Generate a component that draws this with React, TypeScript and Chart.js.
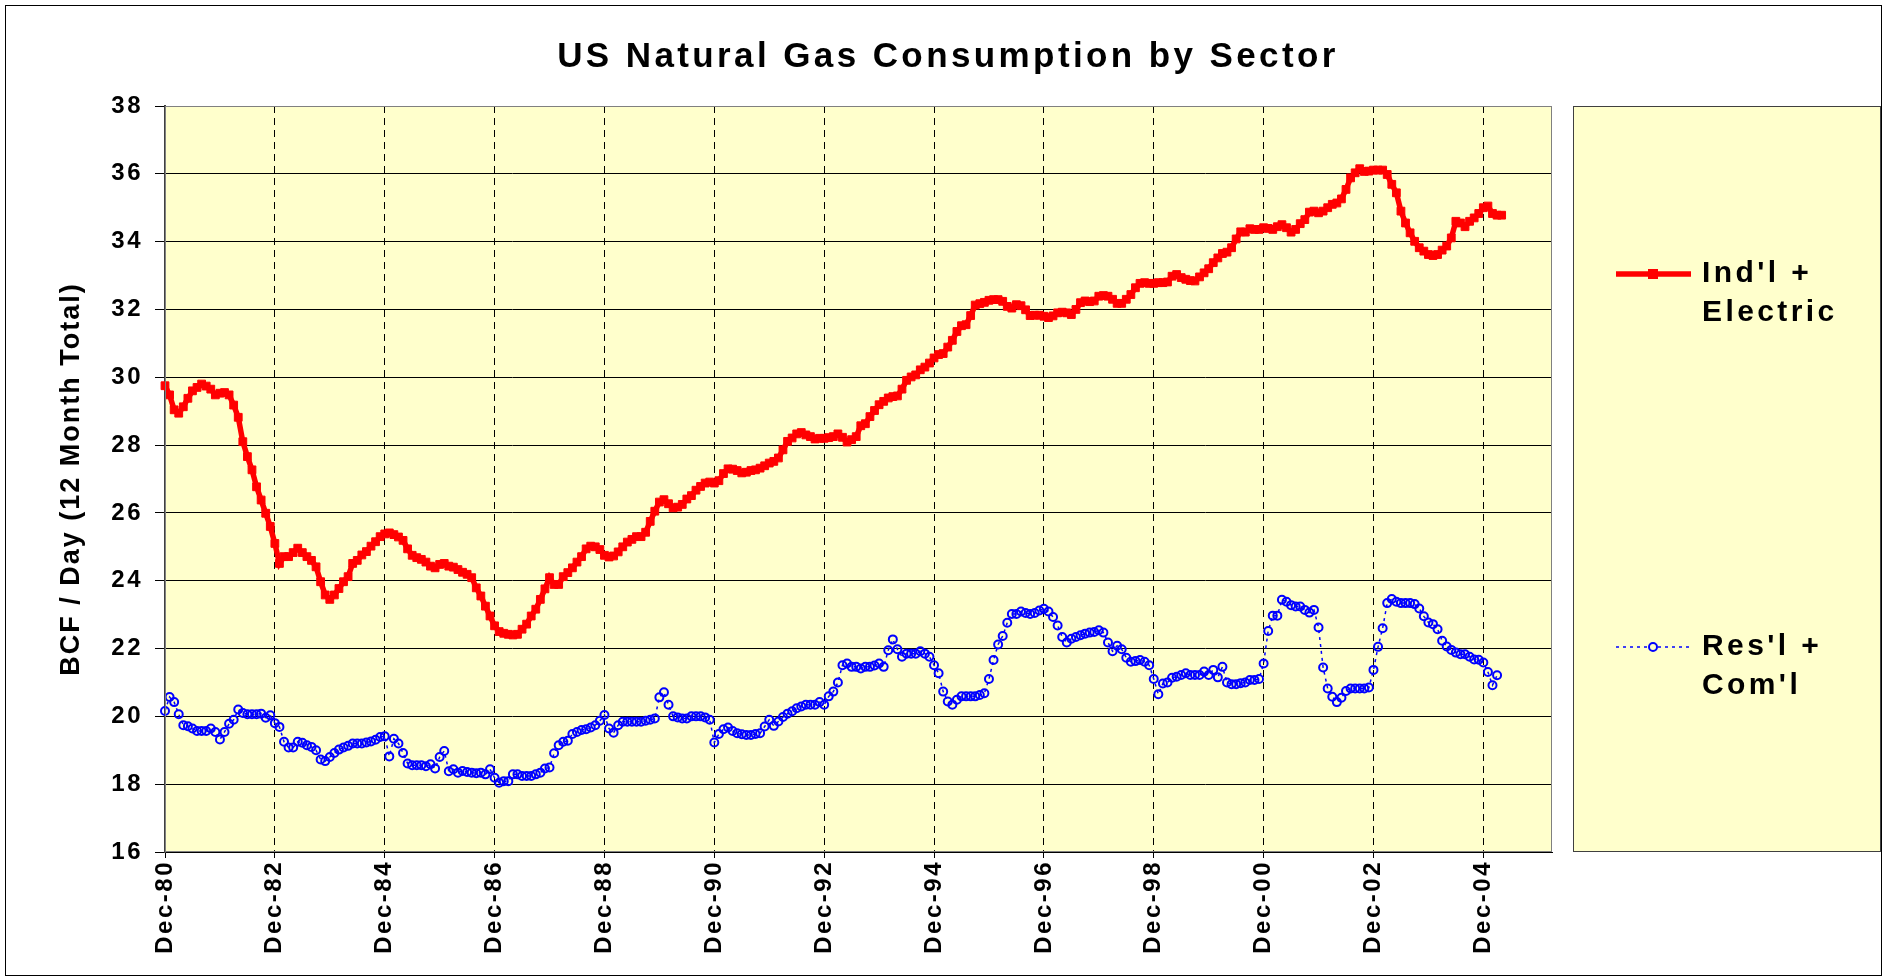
import React, { useEffect, useRef } from 'react';
import { Chart, registerables } from 'chart.js';

Chart.register(...registerables);

const FONT = "'Liberation Sans', Arial, sans-serif";
const TITLE = 'US Natural Gas Consumption by Sector';
const Y_TITLE = 'BCF / Day (12 Month Total)';
const PLOT_BG = '#FFFFCC';

const MONTH_NAMES = ['Jan', 'Feb', 'Mar', 'Apr', 'May', 'Jun', 'Jul', 'Aug', 'Sep', 'Oct', 'Nov', 'Dec'];
// Monthly categories Dec-80 .. Mar-06 (the axis runs a little past the data)
const categories: string[] = [];
for (let i = 0; i < 304; i++) {
  const m = (11 + i) % 12;
  const y = 1980 + Math.floor((11 + i) / 12);
  categories.push(`${MONTH_NAMES[m]}-${String(y % 100).padStart(2, '0')}`);
}

const tickLabels = ['Dec-80', 'Dec-82', 'Dec-84', 'Dec-86', 'Dec-88', 'Dec-90', 'Dec-92', 'Dec-94', 'Dec-96', 'Dec-98', 'Dec-00', 'Dec-02', 'Dec-04'];
const yMin = 16;
const yMax = 38;
const yStep = 2;

const legendLabels = [["Ind'l +", 'Electric'], ["Res'l +", "Com'l"]];

// Ind'l + Electric, monthly from Dec-80
const indValues = [
  29.75, 29.48, 29.04, 28.94, 29.13, 29.38, 29.6, 29.7, 29.8, 29.74, 29.65, 29.48,
  29.53, 29.55, 29.48, 29.18, 28.82, 28.1, 27.66, 27.27, 26.77, 26.38, 25.99, 25.6,
  25.1, 24.51, 24.71, 24.71, 24.83, 24.96, 24.83, 24.71, 24.6, 24.41, 23.97, 23.58,
  23.45, 23.58, 23.77, 23.97, 24.12, 24.51, 24.6, 24.76, 24.86, 25.02, 25.15, 25.3,
  25.38, 25.41, 25.36, 25.29, 25.19, 24.94, 24.75, 24.68, 24.63, 24.55, 24.43, 24.38,
  24.48, 24.51, 24.43, 24.4, 24.33, 24.25, 24.19, 24.09, 23.79, 23.55, 23.25, 22.96,
  22.67, 22.5, 22.45, 22.42, 22.4, 22.42, 22.57, 22.72, 22.96, 23.16, 23.45, 23.76,
  24.09, 23.89, 23.89, 24.12, 24.24, 24.38, 24.55, 24.71, 24.94, 25.02, 25.0, 24.92,
  24.75, 24.7, 24.73, 24.85, 25.0, 25.14, 25.22, 25.3, 25.3, 25.43, 25.75, 26.05,
  26.32, 26.39, 26.27, 26.15, 26.17, 26.25, 26.41, 26.51, 26.67, 26.78, 26.88, 26.91,
  26.88, 26.95, 27.16, 27.3, 27.29, 27.25, 27.18, 27.2, 27.25, 27.27, 27.32, 27.39,
  27.47, 27.52, 27.62, 27.86, 28.11, 28.21, 28.33, 28.37, 28.3, 28.25, 28.18, 28.2,
  28.2, 28.22, 28.25, 28.33, 28.23, 28.09, 28.16, 28.25, 28.57, 28.63, 28.84, 29.02,
  29.19, 29.29, 29.39, 29.43, 29.45, 29.65, 29.91, 30.01, 30.07, 30.22, 30.3, 30.42,
  30.57, 30.67, 30.7, 30.89, 31.09, 31.35, 31.52, 31.55, 31.82, 32.13, 32.17, 32.21,
  32.27, 32.29, 32.29, 32.24, 32.09, 32.04, 32.14, 32.11, 31.99, 31.82, 31.83, 31.83,
  31.8, 31.76, 31.81, 31.9, 31.92, 31.9, 31.85, 32.0, 32.2, 32.25, 32.23, 32.25,
  32.39, 32.41, 32.39, 32.3, 32.18, 32.18, 32.3, 32.44, 32.64, 32.77, 32.79, 32.77,
  32.77, 32.79, 32.79, 32.81, 32.98, 33.03, 32.94, 32.89, 32.85, 32.84, 32.96, 33.08,
  33.2, 33.38, 33.52, 33.65, 33.69, 33.82, 34.08, 34.29, 34.28, 34.38, 34.36, 34.36,
  34.41, 34.39, 34.36, 34.44, 34.5, 34.41, 34.28, 34.36, 34.53, 34.65, 34.87, 34.9,
  34.85, 34.9, 35.0, 35.1, 35.14, 35.26, 35.54, 35.88, 36.03, 36.15, 36.07, 36.08,
  36.11, 36.11, 36.11, 35.98, 35.69, 35.44, 34.9, 34.55, 34.26, 34.01, 33.82, 33.72,
  33.62, 33.59, 33.62, 33.75, 33.87, 34.11, 34.6, 34.55, 34.44, 34.6, 34.7, 34.83,
  35.0, 35.05, 34.83, 34.78, 34.78,
];

// Res'l + Com'l, monthly from Dec-80
const resValues = [
  20.16, 20.57, 20.42, 20.06, 19.74, 19.71, 19.64, 19.57, 19.57, 19.57, 19.64, 19.54,
  19.32, 19.54, 19.78, 19.9, 20.2, 20.1, 20.06, 20.06, 20.06, 20.08, 19.96, 20.03,
  19.8, 19.69, 19.25, 19.08, 19.08, 19.25, 19.22, 19.15, 19.1, 19.0, 18.73, 18.68,
  18.8, 18.92, 19.02, 19.08, 19.13, 19.2, 19.2, 19.2, 19.23, 19.26, 19.31, 19.39,
  19.41, 18.82, 19.34, 19.2, 18.92, 18.61, 18.56, 18.56, 18.56, 18.53, 18.59, 18.46,
  18.8, 18.98, 18.38, 18.44, 18.34, 18.39, 18.36, 18.34, 18.32, 18.34, 18.29, 18.44,
  18.19, 18.04, 18.09, 18.09, 18.29, 18.29, 18.24, 18.24, 18.24, 18.29, 18.34, 18.46,
  18.49, 18.91, 19.15, 19.25, 19.28, 19.48, 19.54, 19.6, 19.62, 19.67, 19.74, 19.87,
  20.04, 19.64, 19.52, 19.74, 19.84, 19.84, 19.84, 19.84, 19.84, 19.87, 19.9, 19.94,
  20.56, 20.71, 20.34, 20.0, 19.97, 19.94, 19.94, 20.0, 20.0, 20.0, 19.97, 19.9,
  19.23, 19.48, 19.62, 19.67, 19.57, 19.5, 19.47, 19.45, 19.45, 19.48, 19.5, 19.7,
  19.9, 19.72, 19.85, 19.98, 20.08, 20.15, 20.24, 20.29, 20.34, 20.34, 20.34, 20.42,
  20.34, 20.59, 20.73, 21.0, 21.51, 21.56, 21.46, 21.46, 21.41, 21.46, 21.46, 21.5,
  21.56, 21.46, 21.95, 22.27, 21.98, 21.76, 21.85, 21.85, 21.85, 21.92, 21.85, 21.76,
  21.51, 21.27, 20.73, 20.44, 20.34, 20.49, 20.59, 20.59, 20.59, 20.59, 20.63, 20.68,
  21.1, 21.66, 22.12, 22.37, 22.76, 23.02, 23.02, 23.09, 23.05, 23.02, 23.05, 23.12,
  23.17, 23.09, 22.93, 22.68, 22.34, 22.18, 22.29, 22.34, 22.39, 22.44, 22.47, 22.49,
  22.54, 22.47, 22.18, 21.92, 22.08, 21.98, 21.73, 21.61, 21.63, 21.66, 21.61, 21.51,
  21.1, 20.65, 20.97, 21.0, 21.14, 21.17, 21.22, 21.27, 21.22, 21.22, 21.22, 21.32,
  21.22, 21.37, 21.15, 21.46, 21.0, 20.95, 20.95, 20.98, 21.0, 21.07, 21.07, 21.1,
  21.56, 22.52, 22.97, 22.97, 23.44, 23.38, 23.28, 23.24, 23.24, 23.14, 23.06, 23.14,
  22.62, 21.44, 20.82, 20.58, 20.42, 20.55, 20.75, 20.82, 20.82, 20.82, 20.82, 20.85,
  21.37, 22.05, 22.6, 23.34, 23.46, 23.38, 23.34, 23.34, 23.34, 23.31, 23.18, 22.95,
  22.77, 22.72, 22.57, 22.23, 22.06, 21.96, 21.88, 21.83, 21.83, 21.76, 21.68, 21.67,
  21.59, 21.31, 20.92, 21.21,
];

const W = 1887;
const H = 980;

const decorPlugin = {
  id: 'decor',
  beforeUpdate(chart: any) {
    chart.ctx.letterSpacing = '2.5px';
  },
  beforeDraw(chart: any) {
    const { ctx, chartArea: a } = chart;
    ctx.save();
    ctx.fillStyle = '#ffffff';
    ctx.fillRect(0, 0, chart.width, chart.height);
    ctx.fillStyle = PLOT_BG;
    ctx.fillRect(a.left, a.top, a.right - a.left, a.bottom - a.top);
    ctx.restore();
    ctx.letterSpacing = '2.5px';
  },
  afterDraw(chart: any) {
    const { ctx, chartArea: a } = chart;
    ctx.save();
    // plot border
    ctx.strokeStyle = '#808080';
    ctx.lineWidth = 1;
    ctx.strokeRect(a.left + 0.5, a.top + 0.5, a.right - a.left - 1, a.bottom - a.top - 1);
    // outer chart border
    ctx.strokeStyle = '#000000';
    ctx.strokeRect(5.5, 5.5, W - 11, H - 10);

    ctx.fillStyle = '#000000';
    ctx.textBaseline = 'middle';

    // title
    ctx.letterSpacing = '3.4px';
    ctx.font = `bold 35px ${FONT}`;
    ctx.textAlign = 'center';
    ctx.fillText(TITLE, 948, 57);

    // y-axis title
    ctx.save();
    ctx.translate(72, 479);
    ctx.rotate(-Math.PI / 2);
    ctx.letterSpacing = '2px';
    ctx.font = `bold 27px ${FONT}`;
    ctx.textAlign = 'center';
    ctx.fillText(Y_TITLE, 0, 0);
    ctx.restore();

    // legend box
    const lx = 1573, ly = 106, lw = 308, lh = 746;
    ctx.fillStyle = PLOT_BG;
    ctx.fillRect(lx, ly, lw, lh);
    ctx.strokeStyle = '#404040';
    ctx.lineWidth = 1;
    ctx.strokeRect(lx + 0.5, ly + 0.5, lw - 1, lh - 1);

    const ds = chart.data.datasets;
    const rows = [274, 647];
    const x1 = 1616, x2 = 1691, xm = 1653;
    rows.forEach((ry, i) => {
      const d = ds[i];
      ctx.save();
      ctx.strokeStyle = d.borderColor;
      ctx.lineWidth = d.borderWidth;
      ctx.setLineDash(d.borderDash || []);
      ctx.beginPath();
      ctx.moveTo(x1, ry);
      ctx.lineTo(x2, ry);
      ctx.stroke();
      ctx.setLineDash([]);
      if (i === 0) {
        ctx.fillStyle = d.pointBackgroundColor;
        ctx.fillRect(xm - 5, ry - 5, 10, 10);
      } else {
        ctx.fillStyle = PLOT_BG;
        ctx.lineWidth = d.pointBorderWidth;
        ctx.beginPath();
        ctx.arc(xm, ry, d.pointRadius, 0, Math.PI * 2);
        ctx.fill();
        ctx.stroke();
      }
      ctx.restore();
      ctx.fillStyle = '#000000';
      ctx.letterSpacing = '3.4px';
      ctx.font = `bold 30px ${FONT}`;
      ctx.textAlign = 'left';
      legendLabels[i].forEach((t, k) => ctx.fillText(t, 1702, ry + k * 39));
    });
    ctx.restore();
  },
};

export default function App() {
  const ref = useRef<HTMLCanvasElement | null>(null);

  useEffect(() => {
    document.body.style.margin = '0';
    document.body.style.overflow = 'hidden';
    const canvas = ref.current!;
    const chart = new Chart(canvas, {
      type: 'line',
      data: {
        labels: categories,
        datasets: [
          {
            label: "Ind'l + Electric",
            data: indValues,
            borderColor: '#FF0000',
            backgroundColor: '#FF0000',
            borderWidth: 5.5,
            pointStyle: 'rect',
            pointRadius: 5.5,
            pointBorderWidth: 1,
            pointBackgroundColor: '#FF0000',
            pointBorderColor: '#FF0000',
            tension: 0,
            order: 1,
          },
          {
            label: "Res'l + Com'l",
            data: resValues,
            borderColor: '#0000FF',
            backgroundColor: '#0000FF',
            borderWidth: 1.5,
            borderDash: [3, 4],
            pointStyle: 'circle',
            pointRadius: 4,
            pointBorderWidth: 2,
            pointBackgroundColor: 'rgba(0,0,0,0)',
            pointBorderColor: '#0000FF',
            tension: 0,
            order: 2,
          },
        ],
      },
      options: {
        responsive: false,
        animation: false,
        devicePixelRatio: 1,
        layout: { padding: { left: 0, right: 335, top: 106, bottom: 0 } },
        plugins: {
          legend: { display: false },
          title: { display: false },
          tooltip: { enabled: false },
        },
        scales: {
          x: {
            type: 'category',
            offset: false,
            afterFit: (s: any) => { s.height = 128; },
            grid: {
              drawOnChartArea: true,
              color: (c: any) => (tickLabels.includes(categories[c.index]) && c.index > 0 ? '#000000' : 'rgba(0,0,0,0)'),
              tickColor: (c: any) => (tickLabels.includes(categories[c.index]) ? '#000000' : 'rgba(0,0,0,0)'),
              lineWidth: 1,
              tickLength: 6,
            },
            border: { display: true, color: '#000000', width: 1, dash: [7, 5] },
            ticks: {
              autoSkip: false,
              minRotation: 90,
              maxRotation: 90,
              padding: 2,
              color: '#000000',
              font: { family: FONT, size: 24, weight: 'bold' },
              callback: (_v: any, i: number) => (tickLabels.includes(categories[i]) ? categories[i] : ''),
            },
          },
          y: {
            min: yMin,
            max: yMax,
            afterFit: (s: any) => { s.width = 165; },
            grid: { color: '#000000', lineWidth: 1, tickLength: 10, tickColor: '#000000' },
            border: { display: true, color: '#404040', width: 2 },
            ticks: {
              stepSize: yStep,
              padding: 12,
              color: '#000000',
              font: { family: FONT, size: 24, weight: 'bold' },
            },
          },
        },
      },
      plugins: [decorPlugin],
    } as any);
    return () => chart.destroy();
  }, []);

  return <canvas ref={ref} width={W} height={H} style={{ display: 'block', width: W, height: H }} />;
}
